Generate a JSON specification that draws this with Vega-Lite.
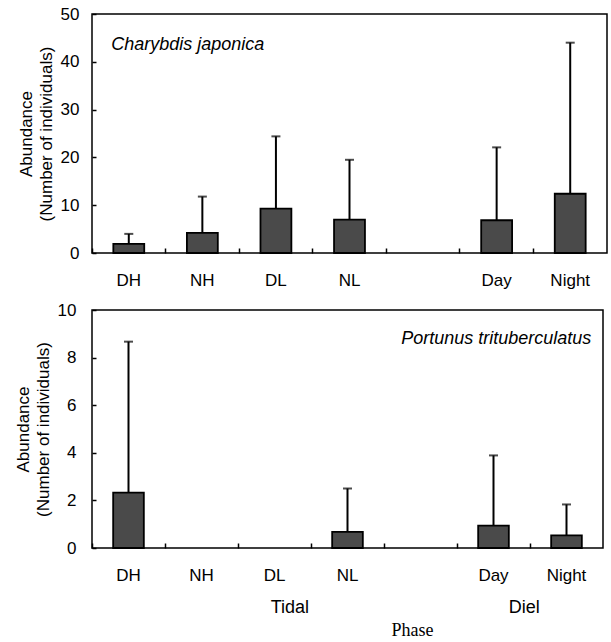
{
  "$schema": "https://vega.github.io/schema/vega-lite/v6.json",
  "background": "white",
  "padding": {"left": 13, "top": 4, "right": 2, "bottom": 2},
  "datasets": {
    "abund": [
      {"species": "Charybdis japonica", "phase": "DH", "mean": 1.9, "upper": 4.0},
      {"species": "Charybdis japonica", "phase": "NH", "mean": 4.2, "upper": 11.8},
      {"species": "Charybdis japonica", "phase": "DL", "mean": 9.3, "upper": 24.4},
      {"species": "Charybdis japonica", "phase": "NL", "mean": 7.0, "upper": 19.5},
      {"species": "Charybdis japonica", "phase": "Day", "mean": 6.85, "upper": 22.1},
      {"species": "Charybdis japonica", "phase": "Night", "mean": 12.4, "upper": 44.0},
      {"species": "Portunus trituberculatus", "phase": "DH", "mean": 2.33, "upper": 8.67},
      {"species": "Portunus trituberculatus", "phase": "NH", "mean": 0, "upper": 0},
      {"species": "Portunus trituberculatus", "phase": "DL", "mean": 0, "upper": 0},
      {"species": "Portunus trituberculatus", "phase": "NL", "mean": 0.68, "upper": 2.5},
      {"species": "Portunus trituberculatus", "phase": "Day", "mean": 0.94, "upper": 3.89},
      {"species": "Portunus trituberculatus", "phase": "Night", "mean": 0.53, "upper": 1.83}
    ],
    "notes": [
      {"panel": "top", "phase": "DH", "y": 43.6, "text": "Charybdis japonica"},
      {"panel": "bottom", "phase": "Night", "y": 8.8, "text": "Portunus trituberculatus"},
      {"panel": "tidal", "phase": "DL", "y": 0, "text": "Tidal"},
      {"panel": "diel", "phase": "Day", "y": 0, "text": "Diel"}
    ]
  },
  "spacing": 11,
  "vconcat": [
    {
      "width": 515,
      "height": 239,
      "layer": [
        {
          "data": {"name": "abund"},
          "transform": [{"filter": "datum.species == 'Charybdis japonica' && datum.mean > 0"}],
          "mark": {"type": "bar", "width": {"band": 0.42}, "fill": "#4a4a4a", "stroke": "black", "strokeWidth": 1.8},
          "encoding": {
            "x": {
              "field": "phase", "type": "nominal",
              "scale": {"domain": ["DH", "NH", "DL", "NL", "gap", "Day", "Night"], "paddingInner": 0, "paddingOuter": 0},
              "axis": {"title": null, "bandPosition": 0, "domain": false, "offset": -5, "tickSize": 5, "labelPadding": 19, "labelAngle": 0, "labelExpr": "datum.value == 'gap' ? '' : datum.value"}
            },
            "y": {
              "field": "mean", "type": "quantitative",
              "scale": {"domain": [0, 50], "nice": false},
              "axis": {"values": [0, 10, 20, 30, 40, 50], "domain": false, "offset": -4, "tickSize": 4, "labelPadding": 13, "title": ["Abundance", "(Number of individuals)"], "titlePadding": 5, "titleLineHeight": 20}
            }
          }
        },
        {
          "data": {"name": "abund"},
          "transform": [{"filter": "datum.species == 'Charybdis japonica' && datum.upper > datum.mean"}],
          "mark": {"type": "rule", "color": "black", "strokeWidth": 2},
          "encoding": {
            "x": {"field": "phase", "type": "nominal"},
            "y": {"field": "mean", "type": "quantitative"},
            "y2": {"field": "upper"}
          }
        },
        {
          "data": {"name": "abund"},
          "transform": [{"filter": "datum.species == 'Charybdis japonica' && datum.upper > datum.mean"}],
          "mark": {"type": "tick", "color": "black", "size": 9, "thickness": 2},
          "encoding": {
            "x": {"field": "phase", "type": "nominal"},
            "y": {"field": "upper", "type": "quantitative"}
          }
        },
        {
          "data": {"name": "notes"},
          "transform": [{"filter": "datum.panel == 'top'"}],
          "mark": {"type": "text", "align": "left", "baseline": "middle", "fontStyle": "italic", "fontSize": 18, "color": "black"},
          "encoding": {
            "x": {"field": "phase", "type": "nominal", "bandPosition": 0.26},
            "y": {"field": "y", "type": "quantitative"},
            "text": {"field": "text"}
          }
        }
      ]
    },
    {
      "width": 511,
      "height": 238,
      "layer": [
        {
          "data": {"name": "abund"},
          "transform": [{"filter": "datum.species == 'Portunus trituberculatus' && datum.mean > 0"}],
          "mark": {"type": "bar", "width": {"band": 0.42}, "fill": "#4a4a4a", "stroke": "black", "strokeWidth": 1.8},
          "encoding": {
            "x": {
              "field": "phase", "type": "nominal",
              "scale": {"domain": ["DH", "NH", "DL", "NL", "gap", "Day", "Night"], "paddingInner": 0, "paddingOuter": 0},
              "axis": {"title": "Phase", "titleFont": "Liberation Serif", "titleFontSize": 18, "titleFontWeight": "normal", "titleX": 320, "titleY": 87, "titleBaseline": "middle", "bandPosition": 0, "domain": false, "offset": -5, "tickSize": 5, "labelPadding": 19, "labelAngle": 0, "labelExpr": "datum.value == 'gap' ? '' : datum.value"}
            },
            "y": {
              "field": "mean", "type": "quantitative",
              "scale": {"domain": [0, 10], "nice": false},
              "axis": {"values": [0, 2, 4, 6, 8, 10], "domain": false, "offset": -4, "tickSize": 4, "labelPadding": 16, "title": ["Abundance", "(Number of individuals)"], "titlePadding": 5, "titleLineHeight": 20}
            }
          }
        },
        {
          "data": {"name": "abund"},
          "transform": [{"filter": "datum.species == 'Portunus trituberculatus' && datum.upper > datum.mean"}],
          "mark": {"type": "rule", "color": "black", "strokeWidth": 2},
          "encoding": {
            "x": {"field": "phase", "type": "nominal"},
            "y": {"field": "mean", "type": "quantitative"},
            "y2": {"field": "upper"}
          }
        },
        {
          "data": {"name": "abund"},
          "transform": [{"filter": "datum.species == 'Portunus trituberculatus' && datum.upper > datum.mean"}],
          "mark": {"type": "tick", "color": "black", "size": 9, "thickness": 2},
          "encoding": {
            "x": {"field": "phase", "type": "nominal"},
            "y": {"field": "upper", "type": "quantitative"}
          }
        },
        {
          "data": {"name": "notes"},
          "transform": [{"filter": "datum.panel == 'bottom'"}],
          "mark": {"type": "text", "align": "right", "baseline": "middle", "fontStyle": "italic", "fontSize": 18, "color": "black"},
          "encoding": {
            "x": {"field": "phase", "type": "nominal", "bandPosition": 0.84},
            "y": {"field": "y", "type": "quantitative"},
            "text": {"field": "text"}
          }
        },
        {
          "data": {"name": "notes"},
          "transform": [{"filter": "datum.panel == 'tidal'"}],
          "mark": {"type": "text", "align": "center", "baseline": "middle", "dy": 60, "fontSize": 18, "color": "black"},
          "encoding": {
            "x": {"field": "phase", "type": "nominal", "bandPosition": 0.71},
            "y": {"field": "y", "type": "quantitative"},
            "text": {"field": "text"}
          }
        },
        {
          "data": {"name": "notes"},
          "transform": [{"filter": "datum.panel == 'diel'"}],
          "mark": {"type": "text", "align": "center", "baseline": "middle", "dy": 60, "fontSize": 18, "color": "black"},
          "encoding": {
            "x": {"field": "phase", "type": "nominal", "bandPosition": 0.92},
            "y": {"field": "y", "type": "quantitative"},
            "text": {"field": "text"}
          }
        }
      ]
    }
  ],
  "config": {
    "font": "Liberation Sans",
    "view": {"stroke": "black", "strokeWidth": 1.5},
    "axis": {"tickColor": "black", "tickWidth": 1.5, "labelColor": "black", "titleColor": "black", "labelFont": "Liberation Sans", "titleFont": "Liberation Sans", "titleFontWeight": "normal", "grid": false},
    "axisX": {"labelFontSize": 17},
    "axisY": {"labelFontSize": 17, "titleFontSize": 17}
  }
}
